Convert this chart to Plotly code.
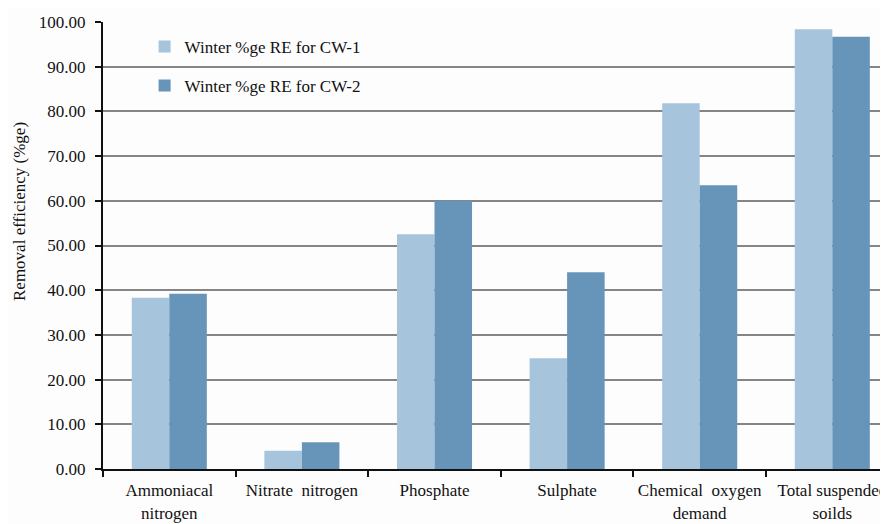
import plotly.graph_objects as go

categories = ["Ammoniacal<br>nitrogen", "Nitrate  nitrogen", "Phosphate", "Sulphate",
              "Chemical  oxygen<br>demand", "Total suspended<br>soilds"]
cw1 = [38.3, 4.1, 52.5, 24.8, 81.8, 98.4]
cw2 = [39.2, 6.0, 60.0, 44.0, 63.5, 96.7]
y_ticks = [0, 10, 20, 30, 40, 50, 60, 70, 80, 90, 100]
y_title = "Removal efficiency (%ge)"

FONT = "Liberation Serif"
fig = go.Figure()
fig.add_trace(go.Bar(x=categories, y=cw1, name="Winter %ge RE for CW-1", showlegend=True,
                     marker=dict(color="#A7C4DD", line=dict(width=0)), legend="legend"))
fig.add_trace(go.Bar(x=categories, y=cw2, name="Winter %ge RE for CW-2", showlegend=True,
                     marker=dict(color="#6695B9", line=dict(width=0)), legend="legend2"))

legend_common = dict(xanchor="left", yanchor="middle", bgcolor="rgba(0,0,0,0)",
                     font=dict(family=FONT, size=17, color="#111"), itemwidth=30)
fig.update_layout(
    width=880, height=516,
    margin=dict(l=95, r=0, t=14, b=55),
    paper_bgcolor="#FDFDFD", plot_bgcolor="#FDFDFD",
    font=dict(family=FONT, size=17, color="#111"),
    barmode="group", bargap=0.434, bargroupgap=0,
    showlegend=True,
    legend=dict(x=0.053, y=0.944, **legend_common),
    legend2=dict(x=0.053, y=0.857, **legend_common),
    xaxis=dict(range=[-0.5, 5.42], showline=True, linecolor="#111", linewidth=2,
               ticks="outside", tickson="boundaries", ticklen=6, tickcolor="#111", tickwidth=2,
               tickangle=0, automargin=False, ticklabelstandoff=5,
               showgrid=False, tickfont=dict(family=FONT, size=17, color="#111")),
    yaxis=dict(range=[0, 100], tickvals=y_ticks, tickformat=".2f",
               showline=True, linecolor="#111", linewidth=2, automargin=False,
               ticks="outside", ticklen=6, tickcolor="#111", tickwidth=2, ticklabelstandoff=6,
               showgrid=True, gridcolor="#858585", gridwidth=1.6, zeroline=False,
               tickfont=dict(family=FONT, size=17, color="#111")),
    annotations=[dict(text=y_title, textangle=-90, xref="paper", yref="paper",
                      x=-0.1057, y=0.575, xanchor="center", yanchor="middle", showarrow=False,
                      font=dict(family=FONT, size=17, color="#111"))],
)
fig.write_html("out.html")
